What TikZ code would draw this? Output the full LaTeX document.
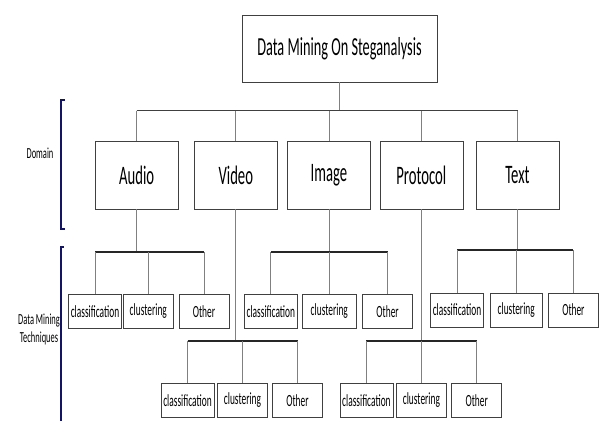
\documentclass[tikz,border=0pt]{standalone}
\usepackage{fontspec}
\setmainfont{Carlito}[FakeStretch=0.55]
\usetikzlibrary{arrows.meta}

\begin{document}
\begin{tikzpicture}[
    x=0.75pt, y=-0.75pt,
    rootbox/.style={draw=black!75, minimum width=146.25pt, minimum height=49.9pt, inner sep=0pt, font=\fontsize{19.5}{22}\selectfont},
    domainbox/.style={draw=black!75, minimum width=62.25pt, minimum height=50.5pt, inner sep=0pt, font=\fontsize{20}{22}\selectfont},
    techbox/.style={draw=black!75, minimum width=37.5pt, minimum height=25.5pt, inner sep=0pt, font=\fontsize{12.8}{14}\selectfont},
    clsbox/.style={techbox, minimum width=39.75pt},
    stem/.style={draw=black!50, line width=0.75pt},
    bus/.style={draw=black!85, line width=1.5pt},
    brk/.style={draw={rgb,255:red,20;green,20;blue,100}, line width=1.5pt},
    side/.style={font=\fontsize{11.5}{13.5}\selectfont, align=center}
]
    \useasboundingbox (0,0) rectangle (600,421);

    % root
    \node[rootbox] (root) at (339.5, 48.75) {Data Mining On Steganalysis};

    % domains
    \node[domainbox] (audio) at (136.7, 175.4) {Audio};
    \node[domainbox] (video) at (235.8, 175.4) {Video};
    \node[domainbox] (image) at (329.0, 175.4) {Image};
    \node[domainbox] (protocol) at (421.3, 175.4) {Protocol};
    \node[domainbox] (text) at (517.5, 175.4) {Text};

    \coordinate (topbus) at (0, 110.7);
    \draw[stem] (root.south) -- (root.south |- topbus);
    \draw[stem, draw=black!75] (audio.north |- topbus) -- (text.north |- topbus);
    \foreach \d in {audio, video, image, protocol, text}
        \draw[stem] (\d.north |- topbus) -- (\d.north);

    % audio techniques
    \node[clsbox] (acls) at (95.0, 311.3) {classification};
    \node[techbox] (aclu) at (148.3, 311.3) {clustering};
    \node[techbox] (aoth) at (204.0, 311.3) {Other};
    \coordinate (abus) at (0, 252.3);

    % image techniques
    \node[clsbox] (icls) at (270.8, 311.3) {classification};
    \node[techbox, minimum width=40pt] (iclu) at (329.3, 311.3) {clustering};
    \node[techbox] (ioth) at (387.6, 311.3) {Other};
    \coordinate (ibus) at (0, 252.3);

    % text techniques
    \node[clsbox] (tcls) at (457.0, 309.9) {classification};
    \node[techbox, minimum width=39.25pt] (tclu) at (516.2, 309.9) {clustering};
    \node[techbox] (toth) at (573.4, 309.9) {Other};
    \coordinate (tbus) at (0, 250);

    % video techniques
    \node[clsbox] (vcls) at (187.5, 400.5) {classification};
    \node[techbox] (vclu) at (242.5, 400.5) {clustering};
    \node[techbox] (voth) at (297.5, 400.5) {Other};
    \coordinate (vbus) at (0, 341);

    % protocol techniques
    \node[clsbox] (pcls) at (366.4, 400.5) {classification};
    \node[techbox] (pclu) at (421.4, 400.5) {clustering};
    \node[techbox] (poth) at (476.7, 400.5) {Other};
    \coordinate (pbus) at (0, 341);

    % sub trees
    \foreach \d/\p/\b in {audio/a/abus, image/i/ibus, text/t/tbus, video/v/vbus, protocol/p/pbus} {
        \draw[stem] (\d.south) -- (\d.south |- \b);
        \draw[bus] (\p cls.north |- \b) -- (\p oth.north |- \b);
        \foreach \k in {cls, clu, oth}
            \draw[stem] (\p\k.north |- \b) -- (\p\k.north);
    }

    % brackets
    \draw[brk] (64.5, 100) -- (61, 100) -- (61, 229) -- (65, 229);
    \draw[brk] (63.5, 247) -- (61, 247) -- (61, 421);
    \node[side] (domlbl) at (40, 153) {Domain};
    \node[side] (techlbl) at (39, 329) {Data Mining\\Techniques};
\end{tikzpicture}
\end{document}
